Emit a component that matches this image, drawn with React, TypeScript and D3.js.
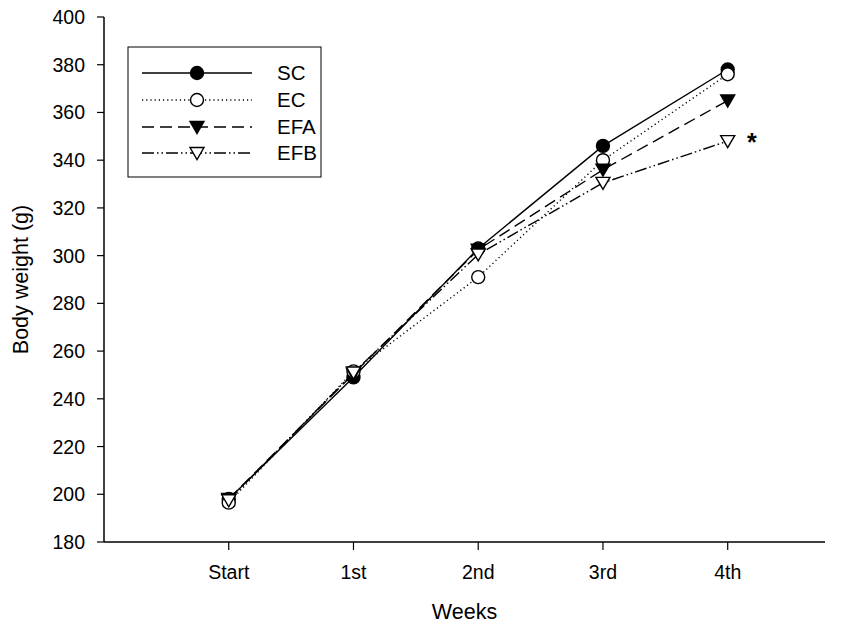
import React from "react";
import * as d3 from "d3";

const weeks = ["Start", "1st", "2nd", "3rd", "4th"];
const scValues = [198, 249, 303, 346, 378];
const ecValues = [196.5, 251.5, 291, 340, 376];
const efaValues = [198, 250.5, 302.5, 336, 365];
const efbValues = [197.5, 251, 300.5, 330.5, 348];
const yTicks = [180, 200, 220, 240, 260, 280, 300, 320, 340, 360, 380, 400];

type Marker = "filledCircle" | "openCircle" | "filledTri" | "openTri";
interface Series {
  name: string;
  values: number[];
  dash: string | undefined;
  marker: Marker;
}

const series: Series[] = [
  { name: "SC", values: scValues, dash: undefined, marker: "filledCircle" },
  { name: "EC", values: ecValues, dash: "1.2,3", marker: "openCircle" },
  { name: "EFA", values: efaValues, dash: "12,6", marker: "filledTri" },
  { name: "EFB", values: efbValues, dash: "12,3,1.5,3,1.5,3", marker: "openTri" },
];

const W = 845;
const H = 627;
const left = 104;
const right = 825;
const top = 17;
const bottom = 542;
const font = "'Liberation Sans', Arial, sans-serif";

const x = d3.scaleLinear().domain([0, 5.78]).range([left, right]);
const y = d3.scaleLinear().domain([180, 400]).range([bottom, top]);

function MarkerShape({ kind, cx, cy }: { kind: Marker; cx: number; cy: number }) {
  const r = 6.5;
  if (kind === "filledCircle" || kind === "openCircle") {
    return (
      <circle
        cx={cx}
        cy={cy}
        r={r}
        fill={kind === "filledCircle" ? "#000" : "#fff"}
        stroke="#000"
        strokeWidth={1.4}
      />
    );
  }
  const h = 12;
  const w = 14;
  const path = `M${cx - w / 2},${cy - h / 2 + 0.5} L${cx + w / 2},${cy - h / 2 + 0.5} L${cx},${cy + h / 2 + 0.5} Z`;
  return (
    <path
      d={path}
      fill={kind === "filledTri" ? "#000" : "#fff"}
      stroke="#000"
      strokeWidth={1.4}
      strokeLinejoin="miter"
    />
  );
}

export default function App() {
  const line = d3
    .line<number>()
    .x((_, i) => x(i + 1))
    .y((v) => y(v));

  const legendRows = [73, 100, 127, 153];

  return (
    <svg width={W} height={H} style={{ position: "absolute", left: 0, top: 0, background: "#fff" }}>
      <rect x={0} y={0} width={W} height={H} fill="#fff" />
      {/* axes */}
      <line x1={left} y1={top} x2={left} y2={bottom} stroke="#000" strokeWidth={1.5} />
      <line x1={left} y1={bottom} x2={right} y2={bottom} stroke="#000" strokeWidth={1.5} />
      {yTicks.map((t) => (
        <g key={t}>
          <line x1={left - 7} x2={left} y1={y(t)} y2={y(t)} stroke="#000" strokeWidth={1.2} />
          <text
            x={left - 19}
            y={y(t)}
            dy="0.36em"
            textAnchor="end"
            fontFamily={font}
            fontSize={19.5}
          >
            {t}
          </text>
        </g>
      ))}
      {weeks.map((w, i) => (
        <g key={w}>
          <line x1={x(i + 1)} x2={x(i + 1)} y1={bottom} y2={bottom + 8} stroke="#000" strokeWidth={1.2} />
          <text x={x(i + 1)} y={579} textAnchor="middle" fontFamily={font} fontSize={19.5}>
            {w}
          </text>
        </g>
      ))}
      <text
        transform={`translate(28,${(top + bottom) / 2}) rotate(-90)`}
        textAnchor="middle"
        fontFamily={font}
        fontSize={21.5}
      >
        Body weight (g)
      </text>
      <text x={(left + right) / 2} y={619} textAnchor="middle" fontFamily={font} fontSize={21.5}>
        Weeks
      </text>

      {/* series lines */}
      {series.map((s) => (
        <path
          key={s.name}
          d={line(s.values) || ""}
          fill="none"
          stroke="#000"
          strokeWidth={1.4}
          strokeDasharray={s.dash}
        />
      ))}
      {/* series markers */}
      {series.map((s) =>
        s.values.map((v, i) => (
          <MarkerShape key={`${s.name}-${i}`} kind={s.marker} cx={x(i + 1)} cy={y(v)} />
        ))
      )}
      <text x={747} y={151} fontFamily={font} fontSize={25} fontWeight="bold">
        *
      </text>

      {/* legend */}
      <rect x={128} y={47} width={193} height={130} fill="#fff" stroke="#000" strokeWidth={1} />
      {series.map((s, i) => (
        <g key={s.name}>
          <line
            x1={142}
            x2={252}
            y1={legendRows[i]}
            y2={legendRows[i]}
            stroke="#000"
            strokeWidth={1.4}
            strokeDasharray={s.dash}
          />
          <MarkerShape kind={s.marker} cx={197} cy={legendRows[i]} />
          <text x={277} y={legendRows[i]} dy="0.36em" fontFamily={font} fontSize={20.5}>
            {s.name}
          </text>
        </g>
      ))}
    </svg>
  );
}
